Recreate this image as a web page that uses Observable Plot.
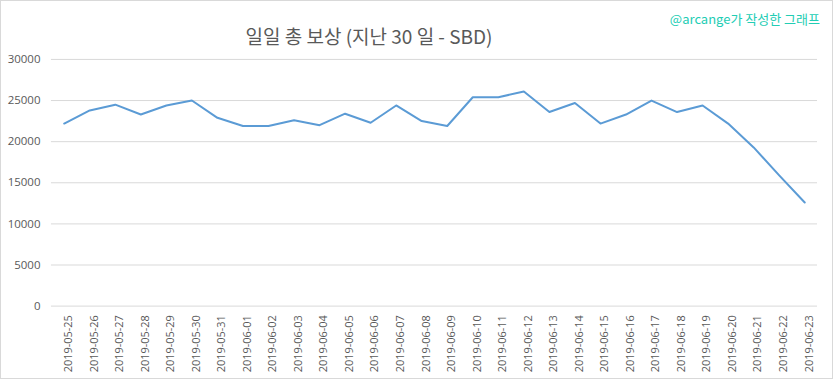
<!DOCTYPE html>
<html>
<head>
<meta charset="utf-8">
<script src="https://cdn.jsdelivr.net/npm/d3@7"></script>
<script src="https://cdn.jsdelivr.net/npm/@observablehq/plot@0.6"></script>
<style>
  html, body { margin: 0; padding: 0; background: #fff; }
  #wrap { position: relative; width: 833px; height: 379px; box-sizing: border-box; border: 1px solid #d9d9d9; overflow: hidden; }
  #title { position: absolute; left: 368px; top: 21px; transform: translateX(-50%); white-space: nowrap;
    font-family: "Noto Sans CJK KR", "Noto Sans", sans-serif; font-size: 19px; color: #595959; }
  #credit { position: absolute; right: 12px; top: 8px; white-space: nowrap;
    font-family: "Noto Sans CJK KR", "Noto Sans", sans-serif; font-size: 13px; color: #22cdb4; }
  #chart { position: absolute; left: -1px; top: -1px; }
</style>
</head>
<body>
<div id="wrap">
  <div id="title">일일 총 보상 (지난 30 일 - SBD)</div>
  <div id="credit">@arcange가 작성한 그래프</div>
  <div id="chart"></div>
</div>
<script>
const dates = [
  "2019-05-25","2019-05-26","2019-05-27","2019-05-28","2019-05-29","2019-05-30","2019-05-31",
  "2019-06-01","2019-06-02","2019-06-03","2019-06-04","2019-06-05","2019-06-06","2019-06-07",
  "2019-06-08","2019-06-09","2019-06-10","2019-06-11","2019-06-12","2019-06-13","2019-06-14",
  "2019-06-15","2019-06-16","2019-06-17","2019-06-18","2019-06-19","2019-06-20","2019-06-21",
  "2019-06-22","2019-06-23"
];
const rewards = [
  22200, 23800, 24500, 23300, 24400, 25000, 22900,
  21900, 21900, 22600, 22000, 23400, 22300, 24400,
  22500, 21900, 25400, 25400, 26100, 23600, 24700,
  22200, 23300, 25000, 23600, 24400, 22200, 19300,
  15900, 12600
];
const yTicks = [0, 5000, 10000, 15000, 20000, 25000, 30000];

const data = dates.map((d, i) => ({date: d, value: rewards[i]}));

const chart = Plot.plot({
  width: 833,
  height: 379,
  marginLeft: 51,
  marginRight: 15,
  marginTop: 59,
  marginBottom: 73,
  style: { fontFamily: "'Open Sans', 'Liberation Sans', sans-serif", background: "transparent", color: "#595959" },
  x: { type: "point", domain: dates, padding: 0.5, round: false },
  y: { domain: [0, 30000] },
  marks: [
    Plot.gridY(yTicks, { stroke: "#d9d9d9", strokeOpacity: 1, strokeWidth: 1 }),
    Plot.axisY(yTicks, { tickSize: 0, tickPadding: 11, tickFormat: d3.format("d"), fontSize: 11.5, fill: "#595959", label: null }),
    Plot.axisX({ tickSize: 0, tickPadding: 9, rotate: -90, textAnchor: "end", fontSize: 11, fill: "#595959", label: null }),
    Plot.line(data, { x: "date", y: "value", stroke: "#5b9bd5", strokeWidth: 2, strokeLinejoin: "round", strokeLinecap: "round" })
  ]
});
document.getElementById("chart").appendChild(chart);
</script>
</body>
</html>
